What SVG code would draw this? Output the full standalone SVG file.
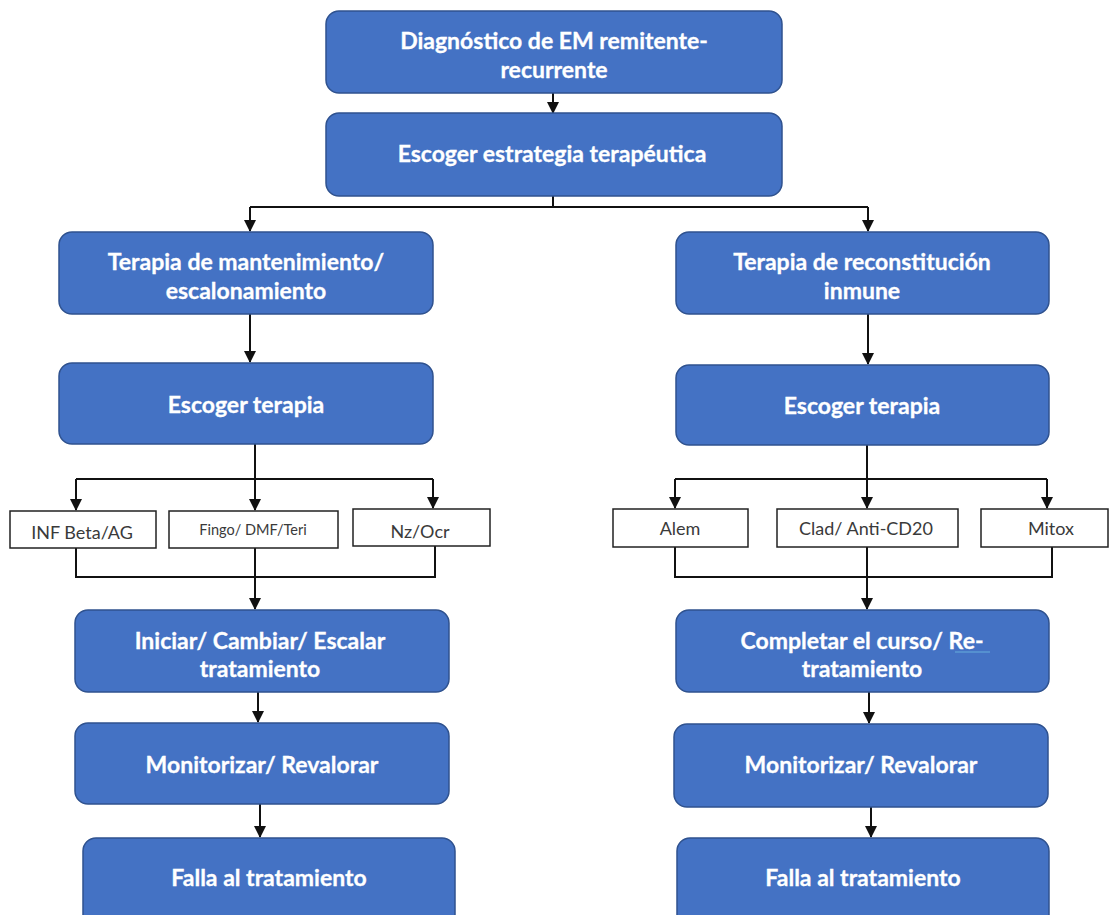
<svg xmlns="http://www.w3.org/2000/svg" width="1109" height="915" viewBox="0 0 1109 915">
<style>
.box{fill:#4472C4;stroke:#2F528F;stroke-width:1.5}
.t{font-family:Lato,"Liberation Sans",sans-serif;font-weight:bold;font-size:23px;fill:#fff;text-anchor:middle;stroke:#fff;stroke-width:0.3}
.sb{fill:#fff;stroke:#222;stroke-width:1.5}
.s{font-family:Lato,"Liberation Sans",sans-serif;font-size:18px;fill:#3a3a3a;text-anchor:middle}
.c{fill:none;stroke:#111;stroke-width:2}
</style>
<defs>
<marker id="ah" markerUnits="userSpaceOnUse" markerWidth="12" markerHeight="12" viewBox="0 0 12 12" refX="11" refY="6" orient="auto">
<path d="M0,0 L12,6 L0,12 z" fill="#111"/>
</marker>
</defs>
<rect width="1109" height="915" fill="#fff"/>
<g id="connectors">
<path class="c" d="M553,93 V113" marker-end="url(#ah)"/>
<path class="c" d="M553,196 V207"/>
<path class="c" d="M250,207 H868"/>
<path class="c" d="M250,207 V231" marker-end="url(#ah)"/>
<path class="c" d="M868,207 V231" marker-end="url(#ah)"/>
<path class="c" d="M250,314 V362" marker-end="url(#ah)"/>
<path class="c" d="M868,314 V364" marker-end="url(#ah)"/>
<path class="c" d="M255,444 V510" marker-end="url(#ah)"/>
<path class="c" d="M76,479 H433"/>
<path class="c" d="M76,479 V510" marker-end="url(#ah)"/>
<path class="c" d="M433,479 V508" marker-end="url(#ah)"/>
<path class="c" d="M76,548 V577 H435 V546"/>
<path class="c" d="M255,548 V609" marker-end="url(#ah)"/>
<path class="c" d="M867,445 V508" marker-end="url(#ah)"/>
<path class="c" d="M675,479 H1047"/>
<path class="c" d="M675,479 V508" marker-end="url(#ah)"/>
<path class="c" d="M1047,479 V508" marker-end="url(#ah)"/>
<path class="c" d="M675,547 V577 H1052 V547"/>
<path class="c" d="M867,547 V609" marker-end="url(#ah)"/>
<path class="c" d="M258,692 V722" marker-end="url(#ah)"/>
<path class="c" d="M260,804 V837" marker-end="url(#ah)"/>
<path class="c" d="M869,692 V723" marker-end="url(#ah)"/>
<path class="c" d="M871,807 V837" marker-end="url(#ah)"/>
</g>
<g id="n-diagnostico"><rect class="box" x="326" y="11" width="456" height="82" rx="13"/>
<text class="t" x="554" y="49">Diagnóstico de EM remitente-</text><text class="t" x="554" y="78">recurrente</text></g>
<g id="n-estrategia"><rect class="box" x="326" y="113" width="456" height="83" rx="13"/>
<text class="t" x="552" y="162">Escoger estrategia terapéutica</text></g>
<g id="n-mantenimiento"><rect class="box" x="59" y="232" width="374" height="82" rx="13"/>
<text class="t" x="246" y="270">Terapia de mantenimiento/</text><text class="t" x="246" y="299">escalonamiento</text></g>
<g id="n-reconstitucion"><rect class="box" x="676" y="232" width="373" height="82" rx="13"/>
<text class="t" x="862" y="270">Terapia de reconstitución</text><text class="t" x="862" y="299">inmune</text></g>
<g id="n-escoger-izq"><rect class="box" x="59" y="363" width="374" height="81" rx="13"/>
<text class="t" x="246" y="413">Escoger terapia</text></g>
<g id="n-escoger-der"><rect class="box" x="676" y="365" width="373" height="80" rx="13"/>
<text class="t" x="862" y="414">Escoger terapia</text></g>
<g id="n-inf"><rect class="sb" x="10" y="511" width="146" height="37"/><text class="s" x="82" y="539">INF Beta/AG</text></g>
<g id="n-fingo"><rect class="sb" x="169" y="511" width="169" height="37"/><text class="s" x="253" y="535" style="font-size:14.5px">Fingo/ DMF/Teri</text></g>
<g id="n-nz"><rect class="sb" x="353" y="509" width="137" height="37"/><text class="s" x="420" y="538">Nz/Ocr</text></g>
<g id="n-alem"><rect class="sb" x="613" y="509" width="135" height="38"/><text class="s" x="680" y="535">Alem</text></g>
<g id="n-clad"><rect class="sb" x="777" y="509" width="181" height="38"/><text class="s" x="866" y="535">Clad/ Anti-CD20</text></g>
<g id="n-mitox"><rect class="sb" x="981" y="509" width="127" height="38"/><text class="s" x="1051" y="535">Mitox</text></g>
<g id="n-iniciar"><rect class="box" x="75" y="610" width="374" height="82" rx="13"/>
<text class="t" x="260" y="649">Iniciar/ Cambiar/ Escalar</text><text class="t" x="260" y="677">tratamiento</text></g>
<g id="n-completar"><rect class="box" x="676" y="610" width="373" height="82" rx="13"/>
<text class="t" x="862" y="649">Completar el curso/ Re-</text><text class="t" x="862" y="677">tratamiento</text>
<path d="M955,652 H990" stroke="#5B9BD5" stroke-width="1.5"/></g>
<g id="n-monitor-izq"><rect class="box" x="75" y="723" width="374" height="81" rx="13"/>
<text class="t" x="262" y="773">Monitorizar/ Revalorar</text></g>
<g id="n-monitor-der"><rect class="box" x="674" y="724" width="374" height="83" rx="13"/>
<text class="t" x="861" y="773">Monitorizar/ Revalorar</text></g>
<g id="n-falla-izq"><rect class="box" x="83" y="838" width="372" height="90" rx="13"/>
<text class="t" x="269" y="886">Falla al tratamiento</text></g>
<g id="n-falla-der"><rect class="box" x="677" y="838" width="372" height="90" rx="13"/>
<text class="t" x="863" y="886">Falla al tratamiento</text></g>
</svg>
